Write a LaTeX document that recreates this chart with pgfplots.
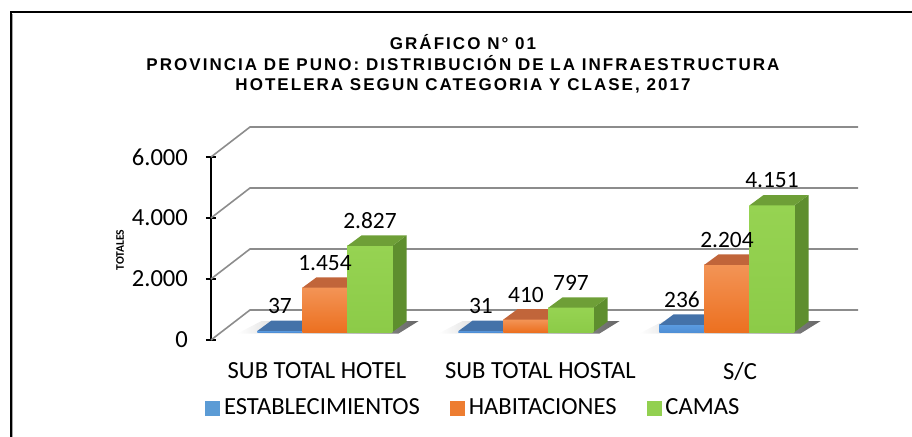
\documentclass[border=0pt]{standalone}
\usepackage{fontspec}
\setmainfont{Carlito}
\newfontfamily\titlefont[LetterSpace=12]{Liberation Sans}
\usepackage{pgfplots}
\pgfplotsset{compat=1.18}

\definecolor{bfront}{HTML}{4F8FD6}
\definecolor{bfront2}{HTML}{5B9BE0}
\definecolor{btop}{HTML}{4472A9}
\definecolor{bside}{HTML}{3A639A}
\definecolor{ofront}{HTML}{F39456}
\definecolor{ofront2}{HTML}{EC7020}
\definecolor{otop}{HTML}{C1653A}
\definecolor{oside}{HTML}{B4561C}
\definecolor{gfront}{HTML}{96D352}
\definecolor{gfront2}{HTML}{8CCB48}
\definecolor{gtop}{HTML}{6E9F37}
\definecolor{gside}{HTML}{5E8E2E}
\definecolor{gridc}{HTML}{8C8C8C}
\definecolor{lblue}{HTML}{5B9BD5}
\definecolor{lorange}{HTML}{ED7D31}
\definecolor{lgreen}{HTML}{92D050}

% bar geometry (axis units)
\def\bw{0.224}
\def\ddx{0.07}
\def\ddy{340}
\def\yo{262}

% 3D bar: #1 left x, #2 value, #3 front top col, #4 front bottom col, #5 top col, #6 side col
\newcommand{\barthreed}[6]{%
  \pgfmathsetmacro\xl{#1}%
  \pgfmathsetmacro\xr{#1+\bw}%
  \pgfmathsetmacro\xlb{#1+\ddx}%
  \pgfmathsetmacro\xrb{#1+\bw+\ddx}%
  \pgfmathsetmacro\yt{\yo+#2}%
  \pgfmathsetmacro\ytb{\yo+#2+\ddy}%
  \pgfmathsetmacro\yob{\yo+\ddy}%
  \pgfmathsetmacro\xc{#1+\bw/2}%
  \edef\tmp{%
    \noexpand\addplot[forget plot, draw=none, fill=#6] coordinates {(\xr,\yo) (\xrb,\yob) (\xrb,\ytb) (\xr,\yt)} -- cycle;
    \noexpand\addplot[forget plot, draw=none, top color=#3, bottom color=#4] coordinates {(\xl,\yo) (\xr,\yo) (\xr,\yt) (\xl,\yt)} -- cycle;
    \noexpand\addplot[forget plot, draw=none, fill=#5] coordinates {(\xl,\yt) (\xr,\yt) (\xrb,\ytb) (\xlb,\ytb)} -- cycle;
    \noexpand\addplot[forget plot, vlab] coordinates {(\xc,\yt) [#2]};
  }\tmp
}

% floor shadow under a group, #1 group centre
\newcommand{\shadowgroup}[1]{%
  \pgfmathsetmacro\sa{#1-0.336-0.1}%
  \pgfmathsetmacro\sb{#1+0.336+0.03}%
  \pgfmathsetmacro\sc{#1+0.336+\ddx+0.06}%
  \pgfmathsetmacro\sd{#1-0.336+\ddx-0.05}%
  \pgfmathsetmacro\ya{\yo-50}%
  \pgfmathsetmacro\yb{\yo+\ddy+20}%
  \edef\tmp{%
    \noexpand\addplot[forget plot, draw=none, left color=white, right color=black!60] coordinates {(\sa,\ya) (\sb,\ya) (\sc,\yb) (\sd,\yb)} -- cycle;
  }\tmp
}

\pgfplotsset{vlab/.style={draw=none, mark=none, nodes near coords, point meta=explicit,
  nodes near coords style={anchor=center, yshift=12.5pt, font=\fontsize{11.7}{13}\selectfont, text=black}}}

\begin{document}
\begin{tikzpicture}
\useasboundingbox (-105.5pt,-48pt) rectangle (350.5pt,170pt);
\begin{axis}[
  at={(0,0)}, anchor=south west,
  scale only axis, width=323.5pt, height=91.5pt,
  xmin=-0.567, xmax=2.652, ymin=0, ymax=6000,
  clip=false,
  axis y line*=left, axis x line*=bottom,
  x axis line style={draw=none},
  y axis line style={line width=0.9pt, black},
  ytick={0,2000,4000,6000},
  scaled y ticks=false,
  tick align=center, major tick length=5pt,
  ytick style={line width=0.9pt, black},
  xtick={-0.04,1.072,2.065},
  xticklabels={SUB TOTAL HOTEL, SUB TOTAL HOSTAL, S/C},
  xtick style={draw=none},
  /pgf/number format/.cd, 1000 sep={.}, assume math mode=true, /pgfplots/.cd,
  yticklabel style={anchor=east, xshift=-5.5pt, font=\fontsize{12.3}{14}\selectfont},
  xticklabel style={anchor=center, yshift=-13pt, font=\fontsize{12.3}{14}\selectfont},
  legend columns=3,
  legend style={at={(0.407,-0.372)}, anchor=center, draw=none, fill=none,
    font=\fontsize{12.3}{14}\selectfont,
    /tikz/every even column/.append style={column sep=13pt}},
]
% back walls / gridlines
\foreach \t in {0,2000,4000,6000}{
  \edef\tmp{\noexpand\draw[gridc, line width=0.8pt] (axis cs:-0.567,\t) -- (axis cs:-0.373,\t+984) -- (axis cs:2.652,\t+984);}\tmp
}
\shadowgroup{0}
\shadowgroup{1}
\shadowgroup{2}
% SUB TOTAL HOTEL
\barthreed{-0.336}{37}{bfront2}{bfront}{btop}{bside}
\barthreed{-0.112}{1454}{ofront}{ofront2}{otop}{oside}
\barthreed{0.112}{2827}{gfront}{gfront2}{gtop}{gside}
% SUB TOTAL HOSTAL
\barthreed{0.664}{31}{bfront2}{bfront}{btop}{bside}
\barthreed{0.888}{410}{ofront}{ofront2}{otop}{oside}
\barthreed{1.112}{797}{gfront}{gfront2}{gtop}{gside}
% S/C
\barthreed{1.664}{236}{bfront2}{bfront}{btop}{bside}
\barthreed{1.888}{2204}{ofront}{ofront2}{otop}{oside}
\barthreed{2.112}{4151}{gfront}{gfront2}{gtop}{gside}

\addlegendimage{legend image code/.code={\fill[lblue] (0pt,-3.5pt) rectangle (7pt,3.5pt);}}
\addlegendentry{ESTABLECIMIENTOS}
\addlegendimage{legend image code/.code={\fill[lorange] (0pt,-3.5pt) rectangle (7pt,3.5pt);}}
\addlegendentry{HABITACIONES}
\addlegendimage{legend image code/.code={\fill[lgreen] (0pt,-3.5pt) rectangle (7pt,3.5pt);}}
\addlegendentry{CAMAS}
\end{axis}
\node[rotate=90, font=\bfseries\fontsize{5.8}{7}\selectfont] at (-45.5pt,45pt) {TOTALES};
\node[align=center, font=\titlefont\bfseries\fontsize{8.5}{10.2}\selectfont] at (126pt,138pt)
  {GRÁFICO N° 01\\PROVINCIA DE PUNO: DISTRIBUCIÓN DE LA INFRAESTRUCTURA\\HOTELERA SEGUN CATEGORIA Y CLASE, 2017};
\draw[black!35, line width=0.8pt] (-99.2pt,-60pt) -- (-99.2pt,163.2pt);
\draw[black, line width=0.8pt] (-100pt,-60pt) -- (-100pt,164pt) -- (360pt,164pt);
\end{tikzpicture}
\end{document}
